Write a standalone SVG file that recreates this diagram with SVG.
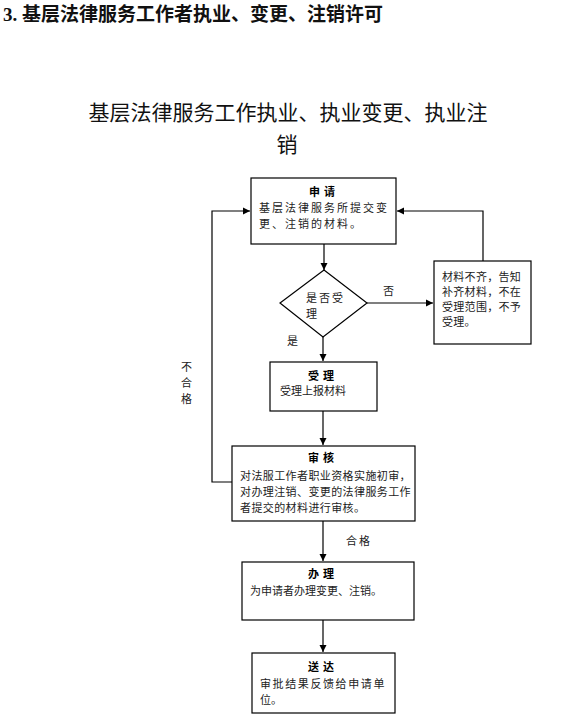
<svg xmlns="http://www.w3.org/2000/svg" width="581" height="724" viewBox="0 0 581 724">
<style>
.h{font-family:"Liberation Serif","Noto Sans CJK SC",serif;fill:#111}
.t{font-family:"Noto Sans CJK SC",sans-serif;font-size:11px;fill:#222}
.b{font-family:"Noto Sans CJK SC",sans-serif;font-size:11px;font-weight:bold;fill:#000;text-anchor:middle}
.box{fill:#fff;stroke:#000;stroke-width:1.2}
.ln{fill:none;stroke:#000;stroke-width:1.2}
</style>
<defs>
<marker id="ar" markerWidth="8" markerHeight="8" refX="7" refY="4" orient="auto" markerUnits="userSpaceOnUse">
<path d="M0,0.5 L7,4 L0,7.5 Z" fill="#000"/>
</marker>
</defs>
<rect width="581" height="724" fill="#fff"/>
<text class="h" x="3" y="21" font-size="19" font-weight="bold">3. 基层法律服务工作者执业、变更、注销许可</text>
<text class="h" x="288" y="120" font-size="21" text-anchor="middle">基层法律服务工作执业、执业变更、执业注</text>
<text class="h" x="287" y="152" font-size="21" text-anchor="middle">销</text>

<g id="connectors">
<line class="ln" x1="324" y1="244" x2="324" y2="270" marker-end="url(#ar)"/>
<line class="ln" x1="367" y1="303" x2="433" y2="303" marker-end="url(#ar)"/>
<polyline class="ln" points="483,261 483,211 397,211" marker-end="url(#ar)"/>
<polyline class="ln" points="232,482 212,482 212,211 250,211" marker-end="url(#ar)"/>
<line class="ln" x1="323" y1="337" x2="323" y2="361" marker-end="url(#ar)"/>
<line class="ln" x1="323" y1="411" x2="323" y2="445" marker-end="url(#ar)"/>
<line class="ln" x1="323" y1="521" x2="323" y2="561" marker-end="url(#ar)"/>
<line class="ln" x1="323" y1="620" x2="323" y2="652" marker-end="url(#ar)"/>
<text class="t" x="383" y="295">否</text>
<text class="t" x="287" y="345">是</text>
<text class="t" x="181" y="371">不</text>
<text class="t" x="181" y="387">合</text>
<text class="t" x="181" y="403">格</text>
<text class="t" x="346" y="545" letter-spacing="2">合格</text>
</g>

<g id="apply">
<rect class="box" x="251" y="178" width="145" height="66"/>
<text class="b" x="324" y="196" letter-spacing="4">申请</text>
<text class="t" x="259" y="212" letter-spacing="2">基层法律服务所提交变</text>
<text class="t" x="259" y="228" letter-spacing="2">更、注销的材料。</text>
</g>

<g id="decide">
<polygon class="box" points="324,270 367,303 323,337 280,303"/>
<text class="t" x="306" y="302" letter-spacing="2">是否受</text>
<text class="t" x="306" y="318">理</text>
</g>

<g id="reject">
<rect class="box" x="434" y="261" width="97" height="83"/>
<text class="t" x="442" y="281" letter-spacing="0.3">材料不齐，告知</text>
<text class="t" x="442" y="296" letter-spacing="0.3">补齐材料，不在</text>
<text class="t" x="442" y="311" letter-spacing="0.3">受理范围，不予</text>
<text class="t" x="442" y="326" letter-spacing="0.3">受理。</text>
</g>

<g id="accept">
<rect class="box" x="270" y="362" width="107" height="49"/>
<text class="b" x="323" y="380" letter-spacing="4">受理</text>
<text class="t" x="280" y="395">受理上报材料</text>
</g>

<g id="review">
<rect class="box" x="232" y="446" width="183" height="75"/>
<text class="b" x="323" y="462" letter-spacing="4">审核</text>
<text class="t" x="240" y="480" letter-spacing="0.4">对法服工作者职业资格实施初审，</text>
<text class="t" x="240" y="496" letter-spacing="0.4">对办理注销、变更的法律服务工作</text>
<text class="t" x="240" y="512" letter-spacing="0.4">者提交的材料进行审核。</text>
</g>

<g id="handle">
<rect class="box" x="242" y="562" width="172" height="58"/>
<text class="b" x="323" y="578" letter-spacing="4">办理</text>
<text class="t" x="250" y="595">为申请者办理变更、注销。</text>
</g>

<g id="deliver">
<rect class="box" x="252" y="653" width="143" height="60"/>
<text class="b" x="323" y="671" letter-spacing="4">送达</text>
<text class="t" x="260" y="688" letter-spacing="1.6">审批结果反馈给申请单</text>
<text class="t" x="260" y="704">位。</text>
</g>
</svg>
